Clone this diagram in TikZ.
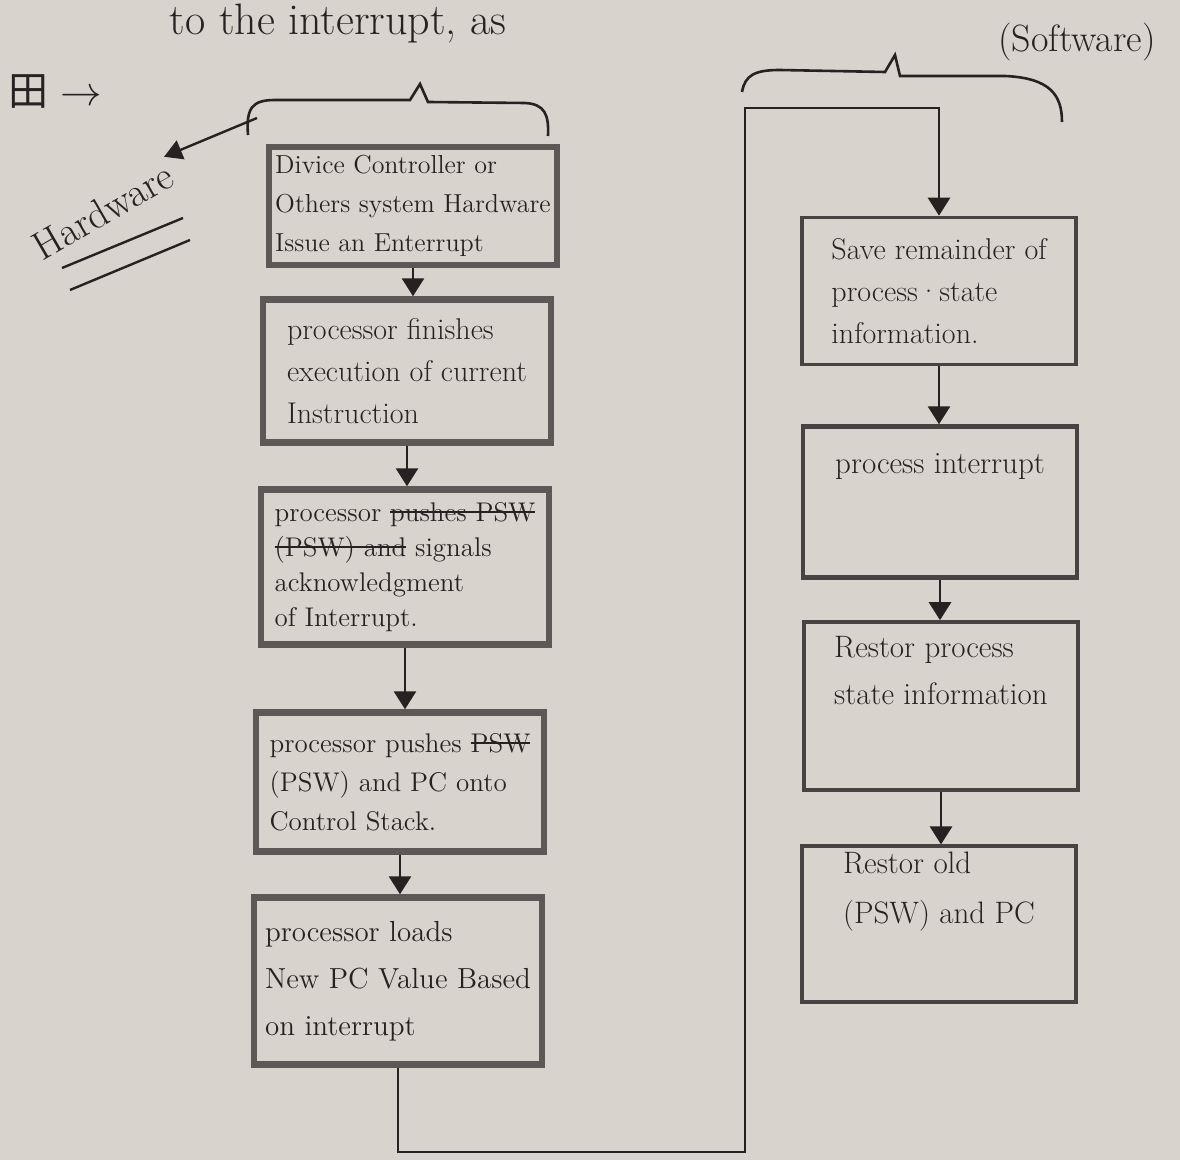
\documentclass[tikz,border=0pt]{standalone}
\usepackage{fontspec}
\newfontfamily\cjk{Noto Sans CJK SC}
\usetikzlibrary{arrows.meta}

\definecolor{paper}{RGB}{216,211,205}
\definecolor{pencil}{RGB}{92,88,86}
\definecolor{ink}{RGB}{38,34,34}

\newsavebox\strikebox
\newcommand\strikeout[1]{\sbox\strikebox{#1}\rlap{\rule[0.3em]{\wd\strikebox}{0.9pt}}\usebox\strikebox}
\newcommand\handsize[2]{\fontsize{#1}{#2}\selectfont}

\tikzset{
  hand/.style={font=\handsize{15}{21}, text=ink},
  hwbox/.style={hand, draw=pencil, line width=3.2pt, align=left, minimum width=144pt, inner sep=3pt},
  swbox/.style={hand, draw=ink!85, line width=1.8pt, align=left, minimum width=137pt, inner sep=3pt},
  flow/.style={draw=ink, line width=1.4pt, -{Triangle[width=11pt,length=9pt]}},
}

\begin{document}
\begin{tikzpicture}[x=0.5pt, y=-0.5pt]
            \useasboundingbox (0,0) rectangle (1180,1160);
            \fill[paper] (0,0) rectangle (1180,1160);
            %\draw[step=100,gray,very thin] (0,0) grid (1180,1160);

            \node[hand, font=\handsize{22}{24}] (heading) at (338,24) {to the interrupt, as};
            \node[hand, font=\handsize{20}{22}] (mark) at (55,92) {{\cjk 田} $\rightarrow$};

            % hardware side
            \node[hwbox, minimum height=59pt, inner sep=2pt, font=\handsize{13}{19.5}] (b1) at (413,206) {Divice Controller or\\Others system Hardware\\Issue an Enterrupt};
            \node[hwbox, minimum height=71.5pt] (b2) at (407,371) {processor finishes\\execution of current\\Instruction};
            \node[hwbox, minimum height=77.5pt, font=\handsize{13.5}{17.5}] (b3) at (405,567) {processor \strikeout{pushes PSW}\\\strikeout{(PSW) and} signals\\acknowledgment\\of Interrupt.};
            \node[hwbox, minimum height=69.5pt, font=\handsize{13.5}{19.5}] (b4) at (400,782) {processor pushes \strikeout{PSW}\\(PSW) and PC onto\\Control Stack.};
            \node[hwbox, minimum height=83.5pt, font=\handsize{14.5}{23.5}] (b5) at (398,981) {processor loads\\New PC Value Based\\on interrupt};

            \draw[flow] (b1.south) -- (b1.south |- b2.north);
            \draw[flow] (b2.south) -- (b2.south |- b3.north);
            \draw[flow] (b3.south) -- (b3.south |- b4.north);
            \draw[flow] (b4.south) -- (b4.south |- b5.north);

            % software side
            \node[swbox, minimum height=73.5pt] (b6) at (939,291) {Save remainder of\\process·state\\information.};
            \node[swbox, minimum height=75.5pt, text depth=38pt, line width=2.2pt, font=\handsize{15.5}{21}] (b7) at (940,502) {process interrupt};
            \node[swbox, minimum height=84pt, text depth=36pt, font=\handsize{15.5}{23.5}] (b8) at (941,706) {Restor process\\state information};
            \node[swbox, minimum height=72.5pt, text depth=36pt, font=\handsize{15.5}{25}] (b9) at (939,924) {Restor old\\(PSW) and PC};

            \draw[flow] (b6.south) -- (b6.south |- b7.north);
            \draw[flow] (b7.south) -- (b7.south |- b8.north);
            \draw[flow] (b8.south) -- (b8.south |- b9.north);

            % hand over from hardware to software
            \coordinate (turn) at (745,1152);
            \coordinate (over) at (939,108);
            \draw[flow] (b5.south) |- (turn) |- (over) -- (b6.north);

            % braces
            \draw[ink, line width=1.3pt] (248,135) .. controls (246,108) and (252,100) .. (275,100) -- (410,100) -- (420,84) -- (428,102) -- (525,103) .. controls (545,104) and (549,115) .. (548,136);
            \draw[ink, line width=1.3pt] (742,92) .. controls (745,75) and (755,70) .. (780,70) -- (885,72) -- (895,55) -- (900,76) -- (1005,76) .. controls (1050,78) and (1062,95) .. (1062,122);

            \node[hand, font=\handsize{19}{21}] (sw) at (1077,42) {(Software)};

            \node[hand, font=\handsize{20}{22}, rotate=30, inner sep=1pt] (hw) at (103,211) {Hardware};
            \coordinate (hwtip) at (257,118);
            \draw[ink, line width=1.2pt, -{Triangle[width=10pt,length=9pt]}] (hwtip) -- (hw.north east);
            \draw[ink, line width=1.2pt] (62,268) -- (183,218);
            \draw[ink, line width=1.2pt] (70,290) -- (190,240);
        \end{tikzpicture}
\end{document}
